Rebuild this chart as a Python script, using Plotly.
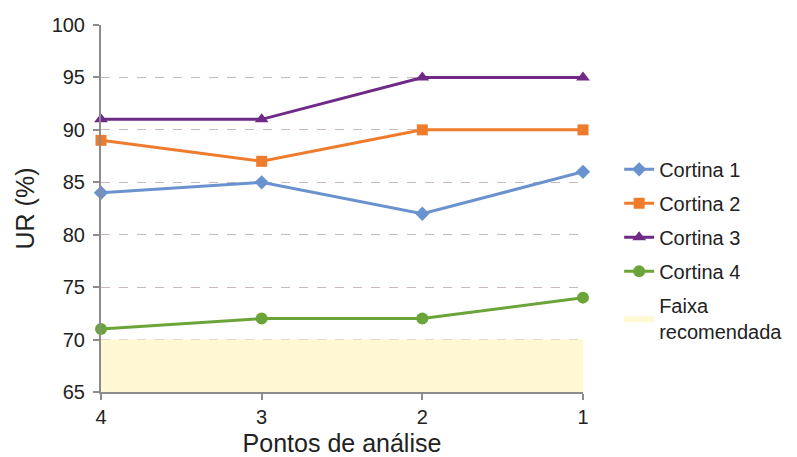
import plotly.graph_objects as go

# Analysis points (plotted right-to-left: 4, 3, 2, 1)
pontos = [4, 3, 2, 1]
cortina_1 = [84, 85, 82, 86]
cortina_2 = [89, 87, 90, 90]
cortina_3 = [91, 91, 95, 95]
cortina_4 = [71, 72, 72, 74]

# Recommended humidity band
faixa_min = 65
faixa_max = 70

series = [
    ("Cortina 1", cortina_1, "#6A92CE", "diamond", 11),
    ("Cortina 2", cortina_2, "#EE7C2C", "square", 11),
    ("Cortina 3", cortina_3, "#6E2A86", "triangle-up", 12),
    ("Cortina 4", cortina_4, "#6BA53A", "circle", 12),
]

fig = go.Figure()

# Shaded recommended band (drawn first, listed last in the legend)
x_lo, x_hi = max(pontos), min(pontos)
fig.add_trace(go.Scatter(
    x=[x_lo, x_hi, x_hi, x_lo, x_lo],
    y=[faixa_min, faixa_min, faixa_max, faixa_max, faixa_min],
    fill="toself", fillcolor="#FFF8D2", mode="lines",
    line=dict(width=0, color="#FFF8D2"),
    name="Faixa<br>recomendada",
    legendgroup="faixa", legendrank=1005,
))

for i, (name, vals, color, symbol, size) in enumerate(series):
    fig.add_trace(go.Scatter(
        x=pontos, y=vals, name=name, mode="lines+markers",
        line=dict(color=color, width=3),
        marker=dict(symbol=symbol, size=size, color=color),
        cliponaxis=False,
        legendgroup=name, legendrank=1000 + i,
    ))

fig.update_layout(
    width=797, height=457,
    margin=dict(l=101, r=214, t=25, b=65, autoexpand=False),
    paper_bgcolor="white", plot_bgcolor="white",
    font=dict(family="Liberation Sans, Arial, sans-serif", size=20, color="#222222"),
    legend=dict(
        x=1.075, y=0.66, xanchor="left", yanchor="top",
        font=dict(size=20), tracegroupgap=5,
    ),
    showlegend=True,
)

fig.update_xaxes(
    range=[4, 1], tickvals=pontos, ticktext=[str(p) for p in pontos],
    showgrid=False, zeroline=False, automargin=False,
    showline=True, linecolor="#8C8C8C", linewidth=2,
    ticks="outside", ticklen=6, tickcolor="#8C8C8C", tickwidth=2,
    tickfont=dict(size=20),
    title=dict(text="Pontos de análise", font=dict(size=25), standoff=12),
)
fig.update_yaxes(
    range=[65, 100], tickvals=list(range(65, 101, 5)),
    showgrid=True, gridcolor="#C8B8B8", griddash="dash", gridwidth=1,
    zeroline=False, automargin=False,
    showline=True, linecolor="#8C8C8C", linewidth=2,
    ticks="outside", ticklen=6, tickcolor="#8C8C8C", tickwidth=2,
    tickfont=dict(size=20), ticklabelstandoff=4,
    title=dict(text="UR (%)", font=dict(size=25), standoff=10),
)

fig.write_html("out.html")
